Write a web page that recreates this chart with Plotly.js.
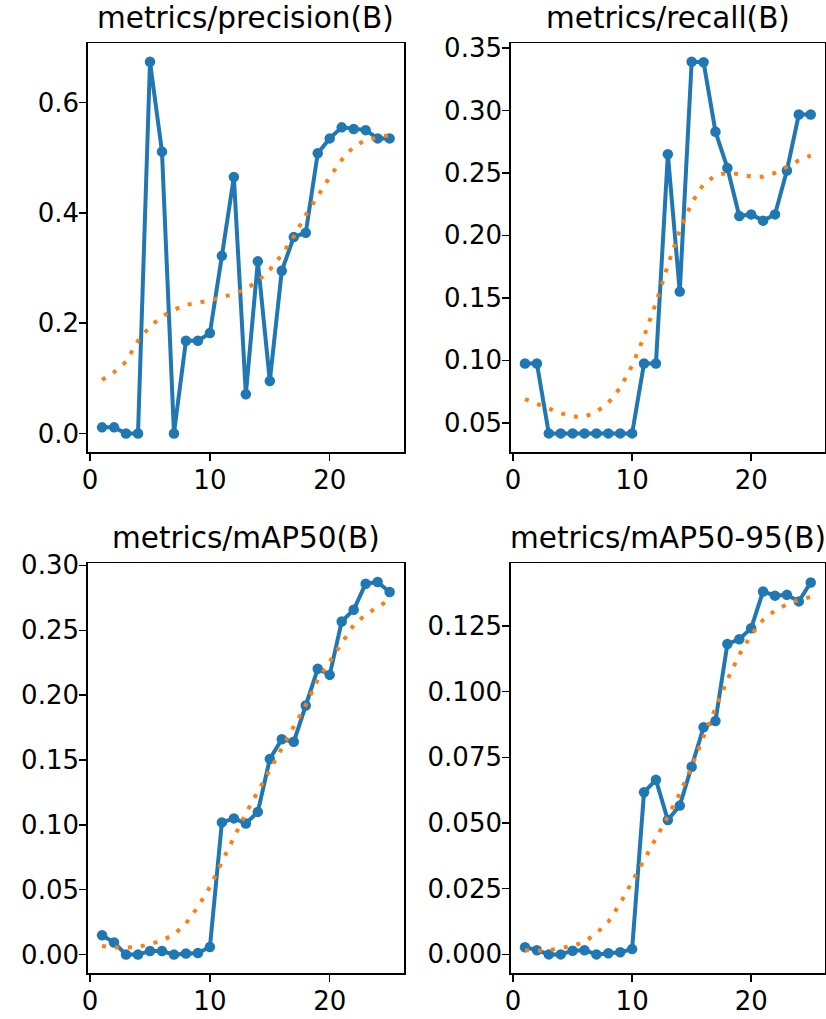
<!DOCTYPE html>
<html>
<head>
<meta charset="utf-8">
<script src="https://cdn.plot.ly/plotly-3.0.1.min.js"></script>
<style>
  html, body { margin: 0; padding: 0; background: #fff; }
  #chart { width: 826px; height: 1019px; }
</style>
</head>
<body>
<div id="chart"></div>
<script>
// ---- data ----
const epochs = [1,2,3,4,5,6,7,8,9,10,11,12,13,14,15,16,17,18,19,20,21,22,23,24,25];

const titles = ["metrics/precision(B)", "metrics/recall(B)", "metrics/mAP50(B)", "metrics/mAP50-95(B)"];

const precision = [0.011,0.011,0.0,0.0,0.674,0.511,0.0,0.168,0.168,0.182,0.322,0.465,0.071,0.312,0.095,0.295,0.356,0.364,0.508,0.535,0.555,0.552,0.550,0.535,0.535];
const precisionSmooth = [0.097,0.111,0.130,0.168,0.194,0.212,0.224,0.233,0.237,0.241,0.247,0.253,0.262,0.276,0.297,0.324,0.357,0.396,0.430,0.465,0.496,0.520,0.532,0.537,0.541];

const recall = [0.0975,0.0975,0.0415,0.0415,0.0415,0.0415,0.0415,0.0415,0.0415,0.0415,0.0975,0.0975,0.265,0.155,0.339,0.3386,0.283,0.254,0.2155,0.2168,0.2118,0.2168,0.252,0.2967,0.2967];
const recallSmooth = [0.069,0.065,0.061,0.0577,0.055,0.0548,0.0588,0.066,0.078,0.0957,0.119,0.146,0.176,0.204,0.226,0.241,0.248,0.250,0.249,0.247,0.247,0.250,0.255,0.260,0.264];

const map50 = [0.0149,0.0093,0.0,0.0,0.0028,0.0028,0.0,0.0008,0.0013,0.0059,0.1019,0.105,0.1011,0.110,0.1508,0.166,0.164,0.192,0.2203,0.2156,0.2568,0.2658,0.2859,0.2872,0.2795];
const map50Smooth = [0.0067,0.0054,0.0054,0.006,0.008,0.011,0.0154,0.024,0.0368,0.0522,0.0715,0.0908,0.1089,0.1256,0.1423,0.159,0.1758,0.1925,0.2118,0.226,0.240,0.254,0.262,0.268,0.2735];

const map5095 = [0.0027,0.0016,0.0,0.0,0.0014,0.0016,0.0,0.0004,0.0008,0.002,0.0617,0.0664,0.0511,0.0566,0.0714,0.0864,0.0888,0.1181,0.1199,0.1241,0.1381,0.1365,0.1368,0.1343,0.1415];
const map5095Smooth = [0.0016,0.0014,0.0016,0.0023,0.0032,0.0048,0.008,0.0124,0.0194,0.0277,0.0359,0.0442,0.0524,0.0613,0.0714,0.0829,0.0937,0.1044,0.114,0.1216,0.1273,0.1308,0.1332,0.1349,0.136];

const xTicks = [0, 10, 20];
const yTicks1 = [0.0, 0.2, 0.4, 0.6];
const yTicks2 = [0.05, 0.10, 0.15, 0.20, 0.25, 0.30, 0.35];
const yTicks3 = [0.00, 0.05, 0.10, 0.15, 0.20, 0.25, 0.30];
const yTicks4 = [0.000, 0.025, 0.050, 0.075, 0.100, 0.125];

// ---- layout helpers ----
const W = 826, H = 1019;
const colL = [87.7/W, 404/W];
const colR = [510.7/W, 825/W];
const rowT = [1 - 452/H, 1 - 43/H];
const rowB = [1 - 973.3/H, 1 - 563.3/H];

const BLUE = '#1f77b4', ORANGE = '#ff7f0e';
const FONT = 'DejaVu Sans, sans-serif';

const series = [
  {y: precision, s: precisionSmooth},
  {y: recall, s: recallSmooth},
  {y: map50, s: map50Smooth},
  {y: map5095, s: map5095Smooth}
];

const traces = [];
series.forEach((d, i) => {
  const xa = i === 0 ? 'x' : 'x' + (i + 1);
  const ya = i === 0 ? 'y' : 'y' + (i + 1);
  traces.push({
    x: epochs, y: d.y, xaxis: xa, yaxis: ya, type: 'scatter', mode: 'lines+markers',
    line: {color: BLUE, width: 4}, marker: {color: BLUE, size: 10.5},
    showlegend: false, hoverinfo: 'skip', cliponaxis: false
  });
  traces.push({
    x: epochs, y: d.s, xaxis: xa, yaxis: ya, type: 'scatter', mode: 'lines',
    line: {color: ORANGE, width: 4, dash: '4px,9px'},
    showlegend: false, hoverinfo: 'skip'
  });
});

function xAxis(domain, anchor) {
  return {
    domain: domain, anchor: anchor, range: [-0.2, 26.2],
    tickmode: 'array', tickvals: xTicks, ticktext: xTicks.map(String),
    showgrid: false, zeroline: false, showline: true, mirror: true,
    linecolor: '#000', linewidth: 1.5, ticks: 'outside', ticklen: 7, tickwidth: 1.5, tickcolor: '#000',
    ticklabelstandoff: -3,
    tickfont: {family: FONT, size: 26, color: '#000'}, fixedrange: true
  };
}
function yAxis(domain, anchor, range, vals, digits) {
  return {
    domain: domain, anchor: anchor, range: range,
    tickmode: 'array', tickvals: vals, ticktext: vals.map(v => v.toFixed(digits)),
    showgrid: false, zeroline: false, showline: true, mirror: true,
    linecolor: '#000', linewidth: 1.5, ticks: 'outside', ticklen: 7, tickwidth: 1.5, tickcolor: '#000',
    ticklabelstandoff: -5,
    tickfont: {family: FONT, size: 26, color: '#000'}, fixedrange: true
  };
}

const domainsX = [colL, colR, colL, colR];
const domainsY = [rowT, rowT, rowB, rowB];

const annotations = titles.map((t, i) => ({
  text: t, xref: 'paper', yref: 'paper',
  x: (domainsX[i][0] + domainsX[i][1]) / 2, y: domainsY[i][1],
  xanchor: 'center', yanchor: 'bottom', yshift: 6, showarrow: false,
  font: {family: FONT, size: 29.5, color: '#000'}
}));

const layout = {
  width: W, height: H,
  margin: {l: 0, r: 0, t: 0, b: 0},
  paper_bgcolor: '#fff', plot_bgcolor: '#fff',
  showlegend: false,
  xaxis: xAxis(colL, 'y'),
  yaxis: yAxis(rowT, 'x', [-0.0337, 0.708], yTicks1, 1),
  xaxis2: xAxis(colR, 'y2'),
  yaxis2: yAxis(rowT, 'x2', [0.0266, 0.354], yTicks2, 2),
  xaxis3: xAxis(colL, 'y3'),
  yaxis3: yAxis(rowB, 'x3', [-0.0144, 0.3016], yTicks3, 2),
  xaxis4: xAxis(colR, 'y4'),
  yaxis4: yAxis(rowB, 'x4', [-0.0072, 0.1488], yTicks4, 3),
  annotations: annotations
};

Plotly.newPlot('chart', traces, layout, {displayModeBar: false, staticPlot: true});
</script>
</body>
</html>
